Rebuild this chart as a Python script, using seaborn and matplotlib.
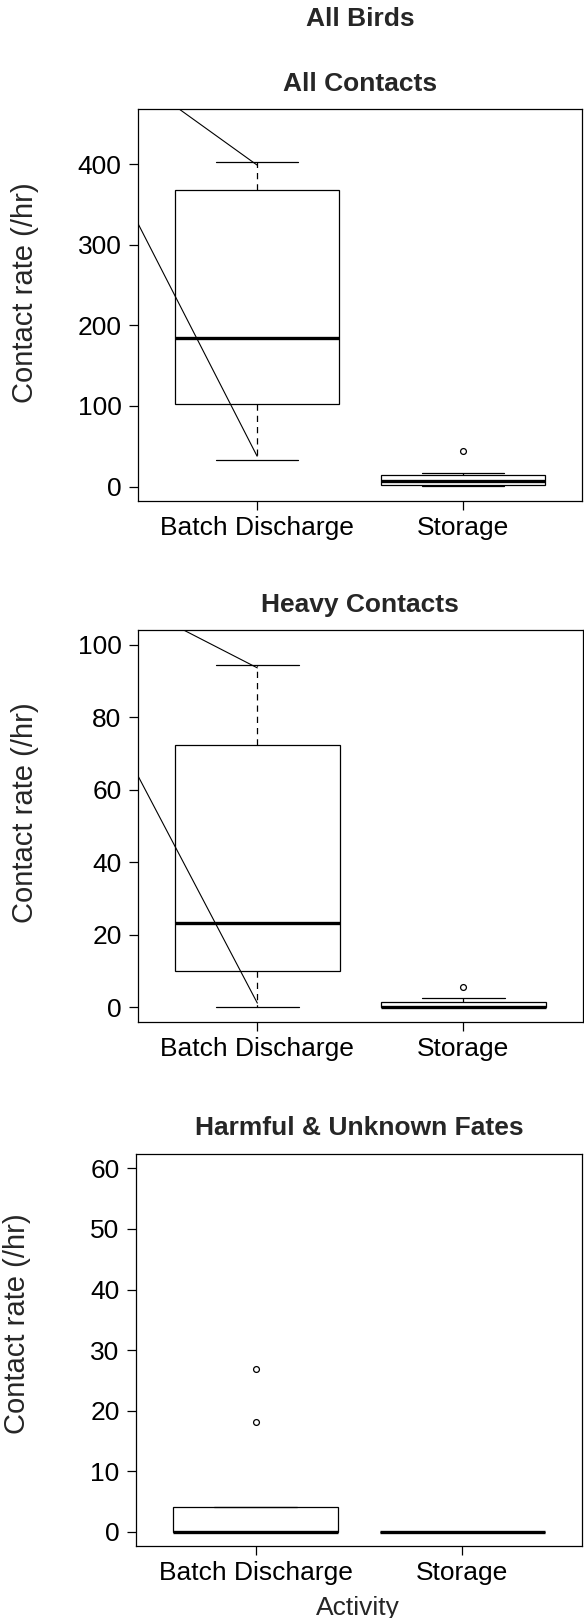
import matplotlib
matplotlib.use("Agg")
import matplotlib.pyplot as plt
import numpy as np
import pandas as pd
import seaborn as sns

# ---- data -------------------------------------------------------------
activities = ["Batch Discharge", "Storage"]
panel_titles = ["All Contacts", "Heavy Contacts", "Harmful & Unknown Fates"]

# five-number summaries: lower whisker, Q1, median, Q3, upper whisker
all_batch = [33, 102, 184, 368, 403]
all_storage = [0.7, 1.6, 7.3, 14.4, 17.2]
heavy_batch = [0, 9.9, 23.2, 72.2, 94.3]
heavy_storage = [0, 0, 0.1, 1.3, 2.5]
harm_batch = [0, 0, 0, 4.0, 4.0]
harm_storage = [0, 0, 0, 0, 0]

# outlying observations
all_out_batch = []
all_out_storage = [44.2]
heavy_out_batch = []
heavy_out_storage = [5.5]
harm_out_batch = [18.1, 26.8]
harm_out_storage = []

# axis ranges and ticks
y_ranges = [(0, 450), (0, 100), (0, 60)]
y_ticks = [[0, 100, 200, 300, 400], [0, 20, 40, 60, 80, 100],
           [0, 10, 20, 30, 40, 50, 60]]

# straight connector lines drawn over the first two panels (x = category index)
all_line_a_x, all_line_a_y = [-0.376, 0.0], [468, 399]
all_line_b_x, all_line_b_y = [-0.58, 0.0], [326.9, 37.6]
heavy_line_a_x, heavy_line_a_y = [-0.363, 0.0], [104.2, 93.6]
heavy_line_b_x, heavy_line_b_y = [-0.58, 0.0], [63.9, 1.1]


def long_frame(batch, storage):
    return pd.DataFrame({
        "Activity": [activities[0]] * len(batch) + [activities[1]] * len(storage),
        "rate": list(batch) + list(storage),
    })


panels = [
    dict(box=long_frame(all_batch, all_storage),
         out=long_frame(all_out_batch, all_out_storage),
         lines=[(all_line_a_x, all_line_a_y), (all_line_b_x, all_line_b_y)]),
    dict(box=long_frame(heavy_batch, heavy_storage),
         out=long_frame(heavy_out_batch, heavy_out_storage),
         lines=[(heavy_line_a_x, heavy_line_a_y), (heavy_line_b_x, heavy_line_b_y)]),
    dict(box=long_frame(harm_batch, harm_storage),
         out=long_frame(harm_out_batch, harm_out_storage),
         lines=[]),
]

# ---- style ------------------------------------------------------------
sns.set_theme(style="ticks")
plt.rcParams["font.family"] = ["Liberation Sans", "DejaVu Sans"]
plt.rcParams.update({
    "axes.edgecolor": "black",
    "axes.linewidth": 0.9,
    "xtick.color": "black",
    "ytick.color": "black",
    "xtick.major.size": 6.5,
    "ytick.major.size": 6.5,
    "xtick.major.width": 0.9,
    "ytick.major.width": 0.9,
    "xtick.major.pad": 4.3,
    "ytick.major.pad": 5.2,
    "xtick.labelsize": 19,
    "ytick.labelsize": 19,
})

W, H = 584, 1618
fig = plt.figure(figsize=(W / 100, H / 100), dpi=100)

# axes rectangles in pixels: left, top, right, bottom
rects_px = [(137.8, 109.5, 582.1, 501.0),
            (137.8, 630.2, 583.0, 1021.6),
            (135.9, 1153.9, 582.1, 1546.2)]
title_baselines = [91.3, 612.3, 1135.1]
ylabel_pos = [(25, 293), (25, 813), (17.5, 1324)]

for i, p in enumerate(panels):
    l, t, r, b = rects_px[i]
    ax = fig.add_axes([l / W, 1 - b / H, (r - l) / W, (b - t) / H])

    sns.boxplot(
        data=p["box"], x="Activity", y="rate", order=activities,
        whis=(0, 100), width=0.8, color="white", linecolor="black",
        linewidth=0.9, showfliers=False, saturation=1, ax=ax,
        medianprops=dict(linewidth=2.4, color="black"),
        whiskerprops=dict(linestyle=(0, (5, 4)), linewidth=0.9),
        capprops=dict(linewidth=0.9),
        capwidths=0.4,
    )
    if len(p["out"]):
        sns.stripplot(
            data=p["out"], x="Activity", y="rate", order=activities,
            jitter=False, color="white", edgecolor="black", linewidth=0.9,
            size=4.2, ax=ax, zorder=5,
        )
    for xs, ys in p["lines"]:
        ax.plot(xs, ys, color="black", linewidth=0.8, zorder=6)

    lo, hi = y_ranges[i]
    pad = 0.04 * (hi - lo)
    ax.set_ylim(lo - pad, hi + pad)
    ax.set_xlim(-0.58, 1.58)
    ax.set_yticks(y_ticks[i])
    ax.set_xticks([0, 1])
    ax.set_xticklabels(activities)
    ax.set_xlabel("")
    ax.set_ylabel("")
    for side in ["top", "right", "left", "bottom"]:
        ax.spines[side].set_visible(True)
        ax.spines[side].set_color("black")
        ax.spines[side].set_linewidth(0.9)
    ax.tick_params(axis="both", which="both", direction="out",
                   top=False, right=False)

    cx = (l + r) / 2 / W
    fig.text(cx, 1 - title_baselines[i] / H, panel_titles[i],
             ha="center", va="baseline", fontsize=19, fontweight="bold")
    yx, yy = ylabel_pos[i]
    fig.text(yx / W, 1 - yy / H, "Contact rate (/hr)", rotation=90,
             ha="center", va="center", fontsize=21)

fig.text(360 / W, 1 - 25.8 / H, "All Birds", ha="center", va="baseline",
         fontsize=19, fontweight="bold")
fig.text(358 / W, 1 - 1615 / H, "Activity", ha="center", va="baseline",
         fontsize=19)

fig.savefig("out.png", dpi=100, facecolor="white")
